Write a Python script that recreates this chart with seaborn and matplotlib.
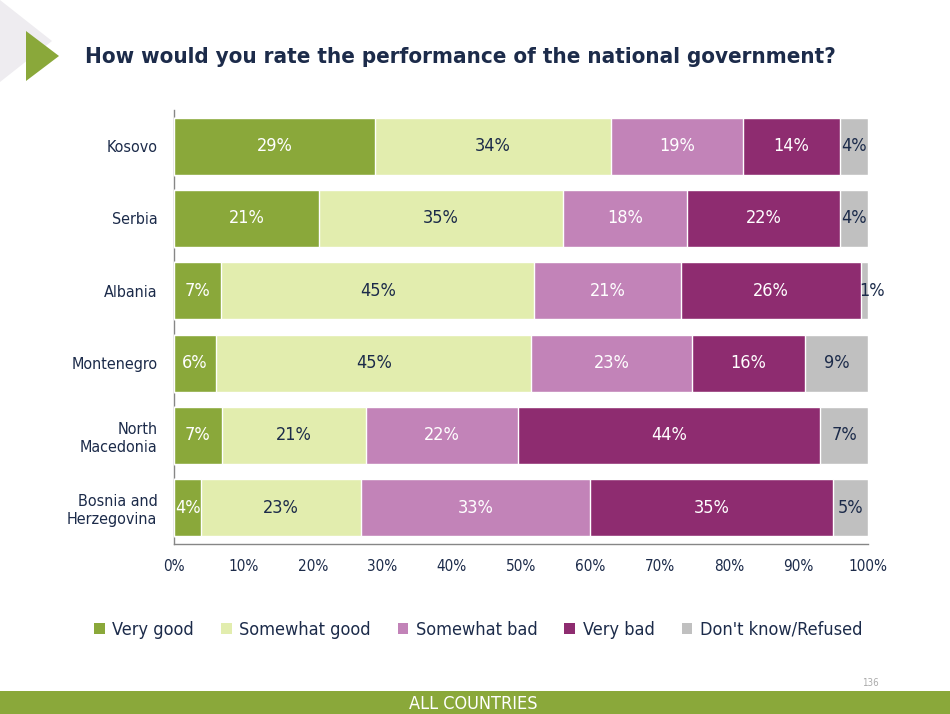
import numpy as np
import pandas as pd
import seaborn as sns
import matplotlib.pyplot as plt
from matplotlib.patches import Patch, Polygon, Rectangle

countries = ["Kosovo", "Serbia", "Albania", "Montenegro",
             "North\nMacedonia", "Bosnia and\nHerzegovina"]
answers = ["Very good", "Somewhat good", "Somewhat bad", "Very bad", "Don't know/Refused"]
very_good = [29.0, 20.9, 6.8, 6.1, 6.9, 3.9]
somewhat_good = [33.9, 35.1, 45.1, 45.4, 20.8, 23.1]
somewhat_bad = [19.1, 17.9, 21.1, 23.2, 21.8, 32.9]
very_bad = [14.0, 22.1, 26.0, 16.2, 43.6, 35.1]
dont_know = [4.0, 4.0, 1.0, 9.1, 6.9, 5.0]
colors = ["#8aa83a", "#e2edae", "#c283b8", "#8e2c70", "#c0c0c0"]
label_colors = ["white", "#1c2b4a", "white", "white", "#1c2b4a"]
text_col = "#1c2b4a"

sns.set_style("white")
plt.rcParams["font.family"] = ["DejaVu Sans"]
plt.rcParams["font.stretch"] = "condensed"

df = pd.DataFrame({"country": countries})
series = [very_good, somewhat_good, somewhat_bad, very_bad, dont_know]
for name, vals in zip(answers, series):
    df[name] = vals
cum = df[answers].cumsum(axis=1)

fig = plt.figure(figsize=(9.5, 7.14), dpi=100)
ax = fig.add_axes([174 / 950, 1 - 544 / 714, 694 / 950, 434 / 714])

# stacked bars: draw the longest cumulative first, shorter ones on top
for i in range(len(answers) - 1, -1, -1):
    sns.barplot(x=cum[answers[i]], y=df["country"], orient="h", color=colors[i],
                saturation=1, width=0.79, ax=ax, zorder=2 + (5 - i))

for r in range(len(countries)):
    left = 0
    for i, name in enumerate(answers):
        v = df.loc[r, name]
        xpos = left + v / 2
        if v < 2:
            xpos = left + v + 0.6
        ax.text(xpos, r, f"{round(v):.0f}%", ha="center", va="center",
                color=label_colors[i], fontsize=13, zorder=20, clip_on=False)
        left += v

ax.set_xlim(0, 100)
ax.set_ylim(len(countries) - 0.5, -0.5)
ax.set_xticks(np.arange(0, 101, 10))
ax.set_xticklabels([f"{t}%" for t in range(0, 101, 10)], fontsize=11, color=text_col)
ax.set_yticks(range(len(countries)))
ax.set_yticklabels(countries, fontsize=11.5, color=text_col, linespacing=1.25)
ax.set_yticks(np.arange(-0.5, len(countries)), minor=True)
ax.tick_params(axis="y", which="major", length=0, pad=12)
ax.tick_params(axis="y", which="minor", length=5, color="#868686", direction="out")
ax.tick_params(axis="x", length=5, color="#868686", direction="out", pad=6)
ax.set_xlabel("")
ax.set_ylabel("")
sns.despine(ax=ax)
for s in ["left", "bottom"]:
    ax.spines[s].set_color("#868686")
    ax.spines[s].set_linewidth(1)

# title and slide decoration
fig.patches.append(Polygon([[0, 1], [0, 1 - 82 / 714], [52 / 950, 1 - 41 / 714]],
                           closed=True, transform=fig.transFigure,
                           facecolor="#eeecf0", edgecolor="none"))
fig.patches.append(Polygon([[26 / 950, 1 - 31 / 714], [26 / 950, 1 - 81 / 714],
                            [59 / 950, 1 - 56 / 714]], closed=True,
                           transform=fig.transFigure, facecolor="#8aa83a",
                           edgecolor="none"))
fig.text(85 / 950, 1 - 57 / 714, "How would you rate the performance of the national government?",
         fontsize=16, fontweight="bold", color=text_col, va="center", ha="left")

handles = [Patch(facecolor=c, edgecolor="none") for c in colors]
fig.legend(handles, answers, loc="center", bbox_to_anchor=(478 / 950, 1 - 630 / 714),
           ncol=5, frameon=False, fontsize=13, handlelength=0.6, handleheight=0.6,
           handletextpad=0.4, columnspacing=1.5, labelcolor=text_col)

fig.patches.append(Rectangle((0, 0), 1, 23 / 714, transform=fig.transFigure,
                             facecolor="#8aa83a", edgecolor="none"))
fig.text(473 / 950, 10 / 714, "ALL COUNTRIES", color="white", fontsize=13,
         ha="center", va="center")
fig.text(870 / 950, 1 - 683 / 714, "136", color="#aaaaaa", fontsize=7,
         ha="center", va="center")

fig.savefig("out.png", dpi=100)
